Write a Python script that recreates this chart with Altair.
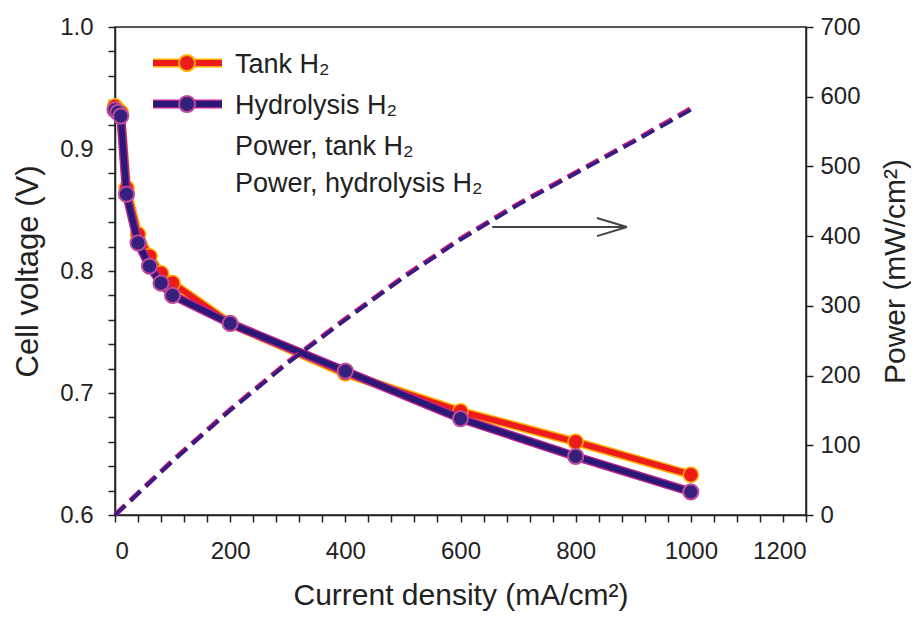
import altair as alt
import pandas as pd

# ---- data ----
current = [0, 5, 10, 20, 40, 60, 80, 100, 200, 400, 600, 800, 1000]
v_tank = [0.935, 0.932, 0.930, 0.868, 0.830, 0.812, 0.798, 0.790, 0.757, 0.716, 0.685, 0.660, 0.633]
v_hydro = [0.932, 0.930, 0.927, 0.863, 0.823, 0.804, 0.790, 0.780, 0.757, 0.718, 0.679, 0.648, 0.619]

power_current = [0, 100, 200, 300, 400, 500, 600, 700, 800, 900, 1000]
p_tank = [0, 78, 151, 219, 281, 341, 396, 446, 491, 536, 583]
p_hydro = [0, 77, 150, 218, 280, 340, 395, 445, 490, 535, 581]

legend_labels = ["Tank H\u2082", "Hydrolysis H\u2082", "Power, tank H\u2082", "Power, hydrolysis H\u2082"]

# annotation arrow (data coordinates: current, power)
arrow_x = [655, 889]
arrow_y = 413
head_x = 837
head_y = [426, 400]

x_ticks = list(range(0, 1201, 40))
y_left_ticks = [round(0.6 + 0.02 * k, 2) for k in range(21)]
y_right_ticks = list(range(0, 701, 100))

FONT = "Liberation Sans"
INK = "#222222"

df_tank = pd.DataFrame({"i": current, "v": v_tank})
df_hydro = pd.DataFrame({"i": current, "v": v_hydro})
df_pt = pd.DataFrame({"i": power_current, "p": p_tank})
df_ph = pd.DataFrame({"i": power_current, "p": p_hydro})

W, H = 691, 488

common_axis = dict(
    domainColor=INK, labelColor=INK, titleColor=INK,
    domainWidth=1.5, grid=False,
    labelFont=FONT, labelFontSize=24, titleFont=FONT, titleFontSize=30,
    titleFontWeight="normal",
)

x_enc = alt.X(
    "i:Q",
    scale=alt.Scale(domain=[0, 1200], nice=False),
    axis=alt.Axis(
        values=x_ticks,
        format="d",
        labelExpr="datum.value % 200 === 0 ? datum.label : ''",
        ticks=True, tickSize=7, tickWidth=1.5, tickColor=INK,
        labelPadding=17,
        title="Current density (mA/cm\u00b2)",
        titlePadding=17,
        **common_axis,
    ),
)

y_left = alt.Y(
    "v:Q",
    scale=alt.Scale(domain=[0.6, 1.0], nice=False, zero=False),
    axis=alt.Axis(
        orient="left",
        values=y_left_ticks,
        labelExpr="abs(datum.value*10 - round(datum.value*10)) < 0.000001 ? format(datum.value, '.1f') : ''",
        ticks=True, tickSize=7, tickWidth=1.5, tickColor=INK,
        labelPadding=15,
        title="Cell voltage (V)",
        titlePadding=15,
        **{**common_axis, "titleFontSize": 31},
    ),
)

y_right = alt.Y(
    "p:Q",
    scale=alt.Scale(domain=[0, 700], nice=False),
    axis=alt.Axis(
        orient="right",
        values=y_right_ticks,
        format="d",
        ticks=True, tickSize=7, tickWidth=1.5, tickColor=INK,
        labelPadding=7,
        title="Power (mW/cm\u00b2)",
        titleAngle=270,
        titlePadding=50,
        **common_axis,
    ),
)

RED = "#ee1b1b"
RED_GLOW = "#ffb000"
NAVY = "#2b1876"
NAVY_GLOW = "#b8238f"

tank_glow = alt.Chart(df_tank).mark_line(color=RED_GLOW, strokeWidth=9).encode(x=x_enc, y=y_left)
tank_line = alt.Chart(df_tank).mark_line(color=RED, strokeWidth=6).encode(x=x_enc, y=y_left)
tank_pts = alt.Chart(df_tank).mark_point(
    filled=True, fill=RED, stroke=RED_GLOW, strokeWidth=1.5, size=230, opacity=1
).encode(x=x_enc, y=y_left)
hydro_glow = alt.Chart(df_hydro).mark_line(color=NAVY_GLOW, strokeWidth=9).encode(x=x_enc, y=y_left)
hydro_line = alt.Chart(df_hydro).mark_line(color=NAVY, strokeWidth=6).encode(x=x_enc, y=y_left)
hydro_pts = alt.Chart(df_hydro).mark_point(
    filled=True, fill="#35207e", stroke="#c04a9a", strokeWidth=2, size=230, opacity=1
).encode(x=x_enc, y=y_left)

# legend (drawn inside the plot, top-left)
leg_rows_y = [38, 79, 120, 157]
legend_layers = []
leg_styles = [(RED_GLOW, RED, RED, RED_GLOW), (NAVY_GLOW, NAVY, "#35207e", "#c04a9a")]
one = pd.DataFrame({"k": [0]})
for r, (glow, col, fill, stroke) in enumerate(leg_styles):
    yy = leg_rows_y[r] - 2
    legend_layers.append(alt.Chart(one).mark_rule(color=glow, strokeWidth=9).encode(
        x=alt.value(38), x2=alt.value(107), y=alt.value(yy)))
    legend_layers.append(alt.Chart(one).mark_rule(color=col, strokeWidth=6).encode(
        x=alt.value(38), x2=alt.value(107), y=alt.value(yy)))
    legend_layers.append(alt.Chart(one).mark_point(
        filled=True, fill=fill, stroke=stroke, strokeWidth=2, size=260, opacity=1).encode(
        x=alt.value(72), y=alt.value(yy)))
for r, lab in enumerate(legend_labels):
    legend_layers.append(alt.Chart(pd.DataFrame({"t": [lab]})).mark_text(
        align="left", baseline="middle", font=FONT, fontSize=27, color=INK).encode(
        x=alt.value(120), y=alt.value(leg_rows_y[r]), text="t:N"))

left = alt.layer(tank_glow, tank_line, tank_pts, hydro_glow, hydro_line, hydro_pts, *legend_layers)

dash = [14, 7]
p_tank_line = alt.Chart(df_pt).mark_line(color="#d0186a", strokeWidth=5, strokeDash=dash).encode(x=x_enc, y=y_right)
p_hydro_line = alt.Chart(df_ph).mark_line(color="#2e1f86", strokeWidth=3.5, strokeDash=dash).encode(x=x_enc, y=y_right)

arrow_df = pd.DataFrame({"i": [arrow_x[0]], "i2": [arrow_x[1]], "p": [arrow_y], "p2": [arrow_y]})
head_df = pd.DataFrame({"i": [head_x, head_x], "i2": [arrow_x[1], arrow_x[1]], "p": head_y, "p2": [arrow_y, arrow_y]})
arrow = alt.Chart(arrow_df).mark_rule(color="#444444", strokeWidth=2).encode(
    x=x_enc, x2="i2:Q", y=y_right, y2="p2:Q")
head = alt.Chart(head_df).mark_rule(color="#444444", strokeWidth=2).encode(
    x=x_enc, x2="i2:Q", y=y_right, y2="p2:Q")

right = alt.layer(p_tank_line, p_hydro_line, arrow, head)

chart = (
    alt.layer(left, right)
    .resolve_scale(y="independent")
    .properties(
        width=W, height=H,
        autosize=alt.AutoSizeParams(type="none"),
        padding={"left": 107, "top": 19, "right": 105, "bottom": 98},
        background="white",
    )
    .configure_view(stroke=INK, strokeWidth=1.5)
)

chart.save("out.html", embed_options={"renderer": "svg", "actions": False})
